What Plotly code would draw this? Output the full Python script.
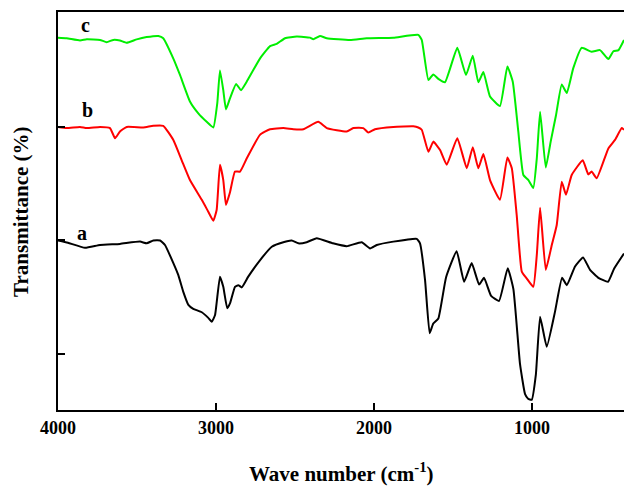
import plotly.graph_objects as go

# Wavenumbers (cm^-1) and transmittance (offset, arbitrary %)
wn_a = [4000, 3937, 3829, 3734, 3608, 3481, 3439, 3397, 3354, 3323, 3270, 3239, 3207, 3175, 3144, 3090,
        3049, 3027, 3006, 2975, 2954, 2929, 2911, 2880, 2859, 2837, 2796, 2722, 2647, 2574, 2521, 2479,
        2426, 2363, 2260, 2173, 2078, 2025, 1983, 1878, 1730, 1709, 1677, 1648, 1625, 1593, 1544, 1477,
        1430, 1382, 1335, 1304, 1259, 1209, 1154, 1118, 1076, 1044, 1025, 1002, 976, 949, 907, 854,
        810, 780, 728, 677, 633, 580, 519, 481, 418]
t_a = [30.0, 29.6, 28.7, 29.2, 29.4, 29.8, 29.5, 30.0, 30.0, 29.2, 26.0, 23.9, 20.9, 18.6, 17.9, 17.3,
       16.3, 15.6, 16.8, 23.6, 21.8, 18.0, 18.9, 21.8, 22.1, 21.7, 23.6, 26.5, 28.9, 29.7, 30.0, 29.5,
       29.7, 30.4, 29.5, 29.0, 29.7, 28.6, 29.2, 29.8, 30.3, 29.5, 23.0, 13.6, 15.3, 16.2, 23.5, 28.1,
       22.7, 26.0, 22.2, 23.4, 20.2, 19.3, 25.1, 21.4, 8.1, 2.8, 2.0, 1.8, 6.2, 16.5, 11.2, 17.5,
       23.4, 22.1, 25.4, 27.0, 24.8, 23.4, 22.7, 25.0, 27.7]

wn_b = [4000, 3945, 3861, 3818, 3734, 3671, 3639, 3608, 3565, 3460, 3397, 3334, 3270, 3217, 3165, 3090,
        3049, 3017, 2996, 2975, 2954, 2937, 2911, 2880, 2848, 2806, 2722, 2658, 2574, 2511, 2447, 2353,
        2299, 2173, 2131, 2068, 2036, 1994, 1878, 1751, 1720, 1698, 1656, 1625, 1582, 1540, 1473, 1413,
        1375, 1340, 1308, 1266, 1203, 1156, 1128, 1097, 1065, 1034, 992, 970, 949, 913, 875, 844,
        812, 785, 749, 679, 644, 623, 591, 517, 475, 432, 418]
t_b = [50.1, 49.9, 50.1, 49.9, 50.1, 49.9, 48.1, 49.3, 50.1, 50.0, 50.3, 50.3, 47.8, 44.2, 40.7, 37.2,
       35.1, 33.5, 35.4, 43.4, 40.7, 36.3, 38.6, 42.2, 42.2, 44.5, 48.7, 49.7, 49.9, 49.7, 49.7, 51.0,
       49.9, 49.3, 49.9, 49.9, 49.1, 49.7, 50.1, 50.2, 50.0, 49.6, 45.7, 47.5, 46.0, 43.4, 48.1, 42.8,
       46.5, 42.8, 45.3, 40.7, 37.2, 44.7, 42.8, 34.5, 24.5, 23.3, 21.8, 27.4, 35.8, 24.8, 29.2, 32.7,
       40.4, 38.1, 41.6, 44.2, 41.7, 42.2, 41.0, 46.3, 47.8, 49.9, 49.6]

wn_c = [4000, 3945, 3861, 3818, 3734, 3692, 3650, 3608, 3565, 3502, 3439, 3365, 3334, 3270, 3228, 3165,
        3112, 3059, 3017, 2992, 2975, 2954, 2937, 2911, 2873, 2842, 2806, 2722, 2658, 2616, 2563, 2489,
        2405, 2384, 2342, 2299, 2152, 2046, 1878, 1720, 1698, 1656, 1625, 1593, 1551, 1473, 1418, 1375,
        1340, 1308, 1266, 1203, 1156, 1122, 1087, 1055, 1023, 992, 970, 949, 913, 882, 848, 812,
        780, 739, 686, 623, 570, 517, 485, 453, 418]
t_c = [65.9, 65.8, 65.4, 65.6, 65.5, 65.1, 65.5, 65.4, 65.0, 65.6, 66.0, 66.2, 65.8, 62.2, 59.3, 54.6,
       52.5, 51.0, 50.0, 54.3, 60.1, 56.6, 53.2, 55.2, 57.7, 56.6, 58.1, 62.2, 64.4, 64.8, 65.8, 66.1,
       65.9, 65.6, 66.2, 65.8, 65.5, 65.8, 65.9, 66.4, 65.5, 58.4, 59.4, 58.6, 58.0, 64.1, 59.3, 62.7,
       58.0, 59.8, 55.5, 53.8, 60.8, 58.1, 49.3, 41.6, 40.7, 39.3, 44.5, 52.8, 42.9, 47.5, 52.2, 57.6,
       56.1, 60.5, 64.1, 63.4, 63.7, 62.1, 63.5, 63.7, 65.5]

x_ticks = [4000, 3000, 2000, 1000]
x_ticklabels = ["<b>4000</b>", "<b>3000</b>", "<b>2000</b>", "<b>1000</b>"]
y_ticks = [10, 30, 50]

series = [("a", wn_a, t_a, "#000000"), ("b", wn_b, t_b, "#ff0000"), ("c", wn_c, t_c, "#00ee00")]
label_pos = {"a": (3848, 31.3), "b": (3816, 53.1), "c": (3823, 68.1)}

FONT = '"Liberation Serif", "Times New Roman", serif'

fig = go.Figure()
for name, x, y, col in series:
    fig.add_trace(go.Scatter(x=x, y=y, mode="lines", name=name,
                             line=dict(color=col, width=2, shape="spline", smoothing=0.4),
                             showlegend=False, hoverinfo="skip"))

for name, (lx, ly) in label_pos.items():
    fig.add_annotation(x=lx, y=ly, text="<b>%s</b>" % name, showarrow=False,
                       font=dict(family=FONT, size=20, color="black"),
                       xanchor="center", yanchor="middle")

fig.add_annotation(xref="paper", yref="paper", x=0.5, y=-0.158,
                   text="<b>Wave number (cm<sup>-1</sup>)</b>", showarrow=False,
                   font=dict(family=FONT, size=21, color="black"),
                   xanchor="center", yanchor="middle")
fig.add_annotation(xref="paper", yref="paper", x=-0.0654, y=0.5,
                   text="<b>Transmittance (%)</b>", showarrow=False, textangle=-90,
                   font=dict(family=FONT, size=21, color="black"),
                   xanchor="center", yanchor="middle")

fig.update_layout(
    width=624, height=488,
    margin=dict(l=58, r=0, t=12, b=78, autoexpand=False),
    paper_bgcolor="white", plot_bgcolor="white",
    font=dict(family=FONT, color="black"),
    xaxis=dict(range=[4000, 418], tickvals=x_ticks, ticktext=x_ticklabels,
               showline=True, linecolor="black", linewidth=2, mirror=True,
               ticks="inside", ticklen=7, tickwidth=2, tickcolor="black",
               showgrid=False, zeroline=False,
               tickfont=dict(family=FONT, size=18, color="black")),
    yaxis=dict(range=[0, 70.44], tickvals=y_ticks, showticklabels=False,
               showline=True, linecolor="black", linewidth=2, mirror=False,
               ticks="inside", ticklen=7, tickwidth=2, tickcolor="black",
               showgrid=False, zeroline=False),
)

fig.write_html("out.html", config={"displayModeBar": False},
               post_script="document.body.style.margin='0';document.body.style.overflow='hidden';")
